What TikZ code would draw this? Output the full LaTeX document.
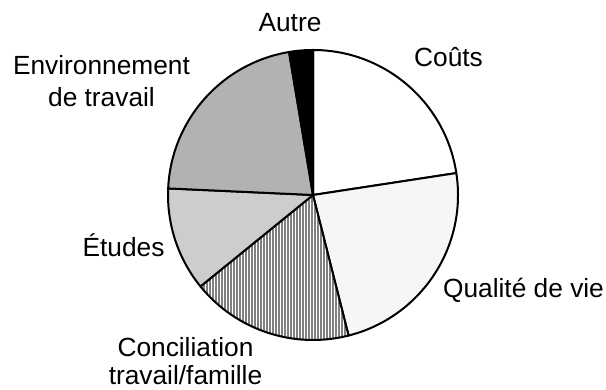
\documentclass[tikz,border=0pt]{standalone}
\usepackage{fontspec}
\setmainfont{Liberation Sans}
\usetikzlibrary{patterns.meta}

\tikzset{
  slice/.style={draw=black,line width=2pt,line join=round},
  lbl/.style={font=\fontsize{26.3}{28}\selectfont,anchor=base,inner sep=0pt}
}

\begin{document}
\begin{tikzpicture}[x=1pt,y=1pt]
\useasboundingbox (0,0) rectangle (606,390);
\coordinate (O) at (313,195);
% slices, clockwise from the top
\draw[slice,fill=white] (O) -- ++(90:145) arc[start angle=90,end angle=8.7,radius=145] -- cycle;
\draw[slice,preaction={fill=white},pattern={Dots[distance=2pt,radius=0.45pt]},pattern color=black!40] (O) -- ++(8.7:145) arc[start angle=8.7,end angle=-75.8,radius=145] -- cycle;
\draw[slice,preaction={fill=white},pattern={Lines[angle=90,distance=3pt,line width=1.8pt]},pattern color=black!50] (O) -- ++(-75.8:145) arc[start angle=-75.8,end angle=-140.9,radius=145] -- cycle;
\draw[slice,preaction={fill=black!10},pattern={Dots[distance=2pt,radius=0.65pt]},pattern color=black!50] (O) -- ++(219.1:145) arc[start angle=219.1,end angle=177.4,radius=145] -- cycle;
\draw[slice,fill=black!30] (O) -- ++(177.4:145) arc[start angle=177.4,end angle=99.5,radius=145] -- cycle;
\draw[slice,fill=black] (O) -- ++(99.5:145) arc[start angle=99.5,end angle=90,radius=145] -- cycle;
% labels
\node[lbl] (autre) at (290,358) {Autre};
\node[lbl] (couts) at (448.5,323) {Coûts};
\node[lbl] (qualite) at (523.5,92) {Qualité de vie};
\node[lbl] (concil1) at (185.5,33) {Conciliation};
\node[lbl] (concil2) at (185.5,5) {travail/famille};
\node[lbl] (etudes) at (123.5,133) {Études};
\node[lbl] (env1) at (101.5,315) {Environnement};
\node[lbl] (env2) at (101.5,283) {de travail};
\end{tikzpicture}
\end{document}
